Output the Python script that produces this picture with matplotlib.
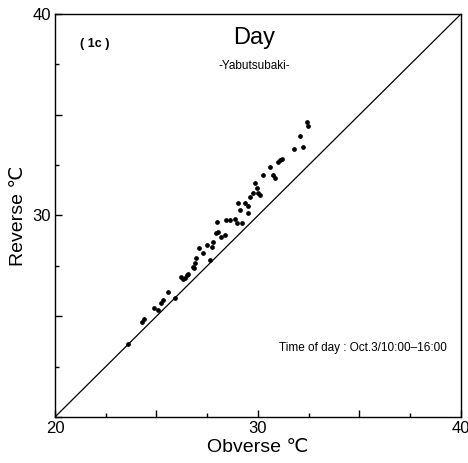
import matplotlib
matplotlib.use('Agg')
import matplotlib.pyplot as plt
import numpy as np

# --- data ----------------------------------------------------
obverse = [23.58, 24.30, 24.40, 24.89, 25.09, 25.22, 25.30, 25.58, 25.91, 26.19,
           26.29, 26.40, 26.49, 26.57, 26.78, 26.86, 26.90, 26.95, 27.11, 27.28,
           27.47, 27.64, 27.72, 27.80, 27.93, 28.05, 27.99, 28.16, 28.37, 28.42,
           28.62, 28.85, 28.95, 29.00, 29.11, 29.20, 29.36, 29.50, 29.52, 29.61,
           29.77, 29.85, 29.93, 30.02, 30.10, 30.26, 30.59, 30.75, 30.83, 30.97,
           31.10, 31.17, 31.77, 32.07, 32.20, 32.40, 32.48]
reverse = [23.62, 24.70, 24.85, 25.42, 25.31, 25.67, 25.80, 26.19, 25.89, 26.96,
           26.85, 26.88, 27.05, 27.08, 27.46, 27.41, 27.63, 27.91, 28.38, 28.13,
           28.54, 27.79, 28.45, 28.70, 29.11, 29.20, 29.69, 28.95, 29.03, 29.78,
           29.78, 29.85, 29.61, 30.60, 30.27, 29.61, 30.60, 30.45, 30.10, 30.93,
           31.10, 31.59, 31.35, 31.10, 31.00, 32.00, 32.42, 32.00, 31.85, 32.67,
           32.75, 32.80, 33.28, 33.95, 33.38, 34.65, 34.44]
lim = [20, 40]
xticks = [20, 25, 30, 35, 40]
xticklabels = ['20', '', '30', '', '40']
yticks = [20, 25, 30, 35, 40]
yticklabels = ['', '', '30', '', '40']

plt.rcParams['font.family'] = ['Liberation Sans', 'DejaVu Sans']

fig = plt.figure(figsize=(4.68, 4.63), dpi=100)
ax = fig.add_axes([0.1175, 0.0994, 0.8675, 0.8704])

# 1:1 line and points
ax.plot(lim, lim, color='black', linewidth=0.9)
ax.plot(obverse, reverse, 'o', color='black', markersize=2.4)

ax.set_xlim(lim)
ax.set_ylim(lim)

ax.set_xticks(xticks)
ax.set_xticklabels(xticklabels, fontsize=12)
ax.set_yticks(yticks)
ax.set_yticklabels(yticklabels, fontsize=12)
ax.set_xticks([22.5, 27.5, 32.5, 37.5], minor=True)
ax.set_yticks([22.5, 27.5, 32.5, 37.5], minor=True)
ax.tick_params(which='major', direction='in', length=5, width=1, pad=3)
ax.tick_params(which='minor', direction='in', length=3, width=1)
for s in ax.spines.values():
    s.set_linewidth(1.0)

ax.set_xlabel('Obverse ℃', fontsize=14, labelpad=2)
ax.set_ylabel('Reverse ℃', fontsize=14, labelpad=4)

# annotations
ax.text(0.062, 0.925, '( 1c )', transform=ax.transAxes, fontsize=9,
        fontweight='bold', ha='left', va='center')
ax.text(0.49, 0.94, 'Day', transform=ax.transAxes, fontsize=17, ha='center', va='center')
ax.text(0.49, 0.87, '-Yabutsubaki-', transform=ax.transAxes, fontsize=8.5,
        ha='center', va='center')
ax.text(0.965, 0.17, 'Time of day : Oct.3/10:00\u201316:00', transform=ax.transAxes,
        fontsize=8.5, ha='right', va='center')

fig.savefig('out.png', dpi=100)
